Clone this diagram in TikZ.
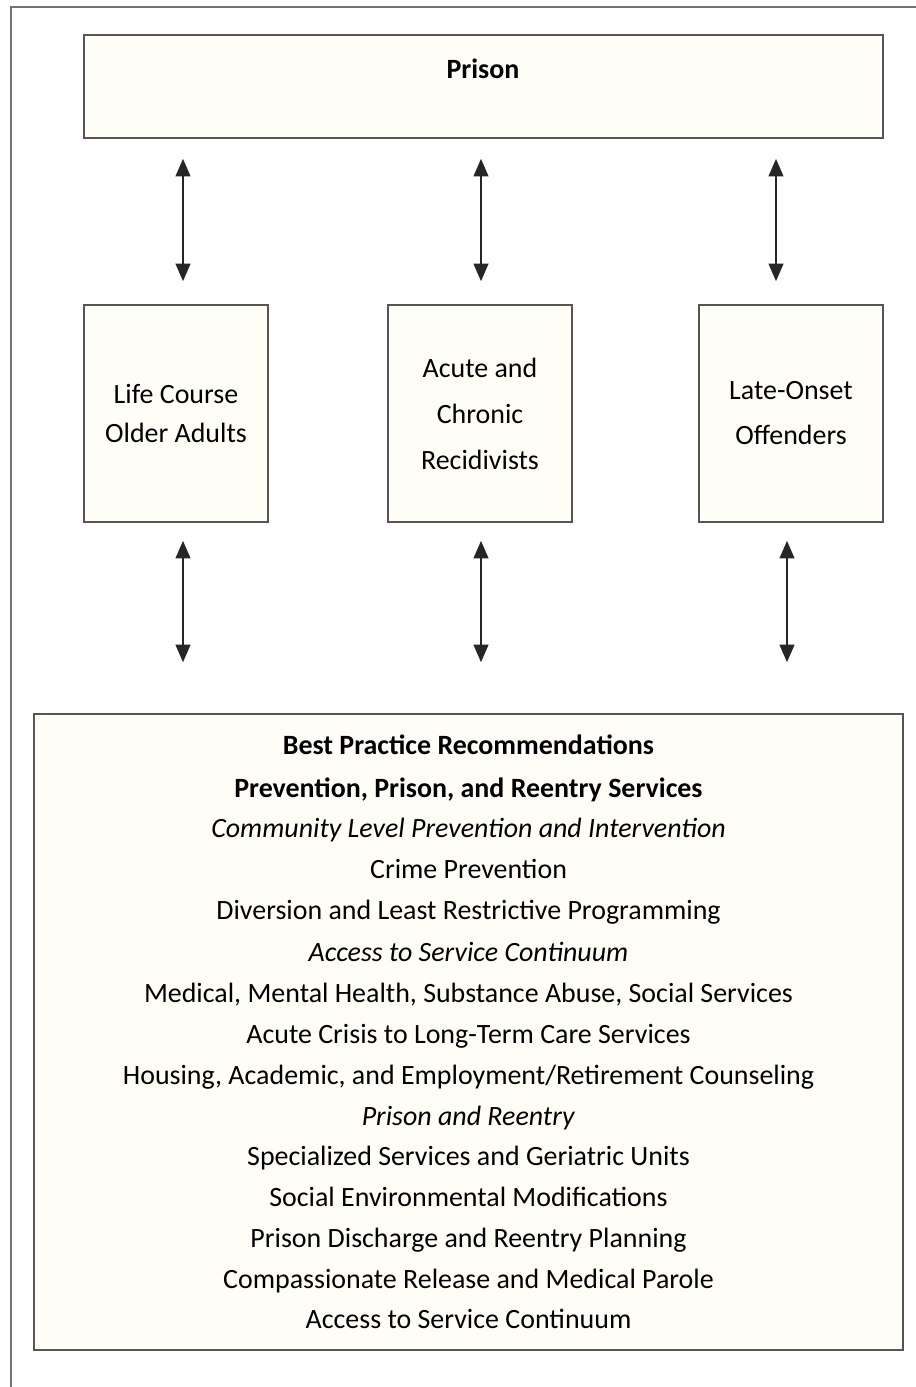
\documentclass[tikz,border=0pt]{standalone}
\usepackage{fontspec}
\setmainfont{Carlito}
\usepackage{tikz}
\usetikzlibrary{positioning, calc, arrows.meta}
\definecolor{boxfill}{HTML}{FEFEF7}
\definecolor{boxline}{HTML}{555555}
\tikzset{box/.style = {rectangle, draw=boxline, fill=boxfill, line width=1pt, inner sep=0pt},
         biarrow/.style = {{Triangle[length=10pt,width=8.5pt]}-{Triangle[length=10pt,width=8.5pt]}, line width=0.8pt, black!85},
         txt/.style = {font=\fontsize{15.9}{23.2}\selectfont, align=center}}

\begin{document}
\begin{tikzpicture}[x=0.02cm, y=-0.02cm]
        \useasboundingbox (0,0) rectangle (916,1387);
        \draw [line width=1.6pt, black!55] (11,1387) -- (11,7) -- (916,7);

        % top
        \node [box, minimum width=15.98cm, minimum height=2.06cm] (prison) at (483.5,86.5) {};
        \node [txt, font=\fontsize{15.9}{23.2}\selectfont\bfseries] (prisonlabel) at (483,69) {Prison};

        % offender groups
        \node [box, txt, minimum width=3.68cm, minimum height=4.34cm,
               font=\fontsize{15.9}{22.2}\selectfont] (life) at (176,413.5) {Life Course\\Older Adults};
        \node [box, txt, minimum width=3.68cm, minimum height=4.34cm,
               font=\fontsize{15.9}{26.2}\selectfont] (acute) at (480,413.5) {Acute and\\Chronic\\Recidivists};
        \node [box, txt, minimum width=3.68cm, minimum height=4.34cm,
               font=\fontsize{15.9}{25.6}\selectfont] (late) at (791,413.5) {Late-Onset\\Offenders};

        % recommendations
        \node [box, txt, minimum width=17.38cm, minimum height=12.72cm] (best) at (468.5,1032) {%
            \textbf{Best Practice Recommendations}\\[1pt]
            \textbf{Prevention, Prison, and Reentry Services}\\
            \textit{Community Level Prevention and Intervention}\\
            Crime Prevention\\
            Diversion and Least Restrictive Programming\\[1pt]
            \textit{Access to Service Continuum}\\
            Medical, Mental Health, Substance Abuse, Social Services\\
            Acute Crisis to Long-Term Care Services\\
            Housing, Academic, and Employment/Retirement Counseling\\
            \textit{Prison and Reentry}\\
            Specialized Services and Geriatric Units\\
            Social Environmental Modifications\\
            Prison Discharge and Reentry Planning\\
            Compassionate Release and Medical Parole\\
            Access to Service Continuum};

        \draw [biarrow] ($(prison.south -| life.north)+(7,20)$)  -- ($(life.north)+(7,-23)$);
        \draw [biarrow] ($(prison.south -| acute.north)+(1,20)$) -- ($(acute.north)+(1,-23)$);
        \draw [biarrow] ($(prison.south -| late.north)+(-15,20)$) -- ($(late.north)+(-15,-23)$);

        \draw [biarrow] ($(life.south)+(7,18)$)  -- ($(best.north -| life.south)+(7,-51)$);
        \draw [biarrow] ($(acute.south)+(1,18)$) -- ($(best.north -| acute.south)+(1,-51)$);
        \draw [biarrow] ($(late.south)+(-4,18)$) -- ($(best.north -| late.south)+(-4,-51)$);
    \end{tikzpicture}
\end{document}
